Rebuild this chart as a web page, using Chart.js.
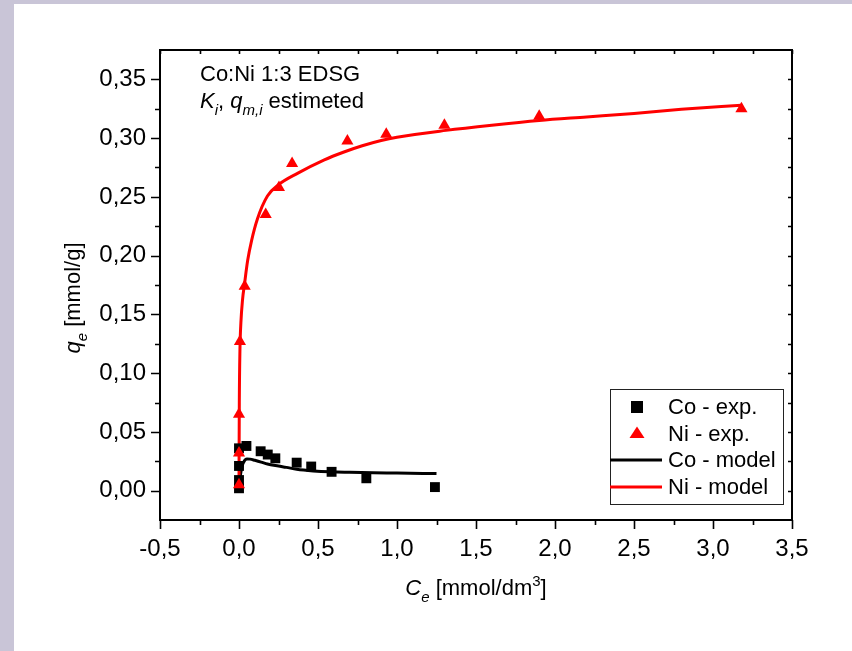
<!DOCTYPE html>
<html>
<head>
<meta charset="utf-8">
<script src="https://cdn.jsdelivr.net/npm/chart.js@4"></script>
<style>
  html, body { margin: 0; padding: 0; width: 852px; height: 651px; overflow: hidden; background: #c9c5d7; }
  #wrap { position: absolute; left: 14px; top: 4px; width: 838px; height: 647px; background: #ffffff; }
  canvas { display: block; }
</style>
</head>
<body>
<div id="wrap"><canvas id="c" width="838" height="647"></canvas></div>
<script>
// Co:Ni 1:3 EDSG sorption isotherms, Ce [mmol/dm3] vs qe [mmol/g]
const coExpX = [0.0, 0.0, 0.0, 0.0, 0.047, 0.137, 0.182, 0.230, 0.365, 0.457, 0.586, 0.806, 1.24];
const coExpY = [0.002, 0.009, 0.021, 0.036, 0.038, 0.0335, 0.0307, 0.0275, 0.0238, 0.0205, 0.016, 0.0105, 0.003];

const niExpX = [0.0, 0.0, 0.0, 0.006, 0.036, 0.169, 0.253, 0.336, 0.686, 0.932, 1.30, 1.90, 3.18];
const niExpY = [0.005, 0.032, 0.065, 0.127, 0.174, 0.235, 0.258, 0.2785, 0.2975, 0.3032, 0.311, 0.3186, 0.325];

const coModelX = [0, 0.004, 0.01, 0.02, 0.035, 0.05, 0.07, 0.1, 0.14, 0.18, 0.25, 0.3, 0.365, 0.47, 0.58, 0.7, 0.85, 1.0, 1.25];
const coModelY = [0.002, 0.007, 0.014, 0.021, 0.0255, 0.027, 0.0268, 0.0258, 0.0243, 0.0226, 0.0209, 0.0198, 0.0182, 0.0168, 0.016, 0.0156, 0.0152, 0.015, 0.0145];

const niModelX = [0, 0.0005, 0.002, 0.006, 0.012, 0.022, 0.035, 0.055, 0.08, 0.116, 0.18, 0.253, 0.37, 0.54, 0.66, 0.78, 0.9, 1.0, 1.31, 1.6, 1.9, 2.2, 2.5, 2.8, 3.18];
const niModelY = [0.003, 0.03, 0.075, 0.12, 0.143, 0.162, 0.176, 0.196, 0.213, 0.231, 0.2507, 0.2606, 0.27, 0.2815, 0.288, 0.2935, 0.298, 0.3008, 0.3066, 0.311, 0.315, 0.318, 0.321, 0.3245, 0.328];

const seriesNames = ['Co - exp.', 'Ni - exp.', 'Co - model', 'Ni - model'];

const xTicks = [-0.5, 0.0, 0.5, 1.0, 1.5, 2.0, 2.5, 3.0, 3.5];
const xTickLabels = ['-0,5', '0,0', '0,5', '1,0', '1,5', '2,0', '2,5', '3,0', '3,5'];
const yTicks = [0.00, 0.05, 0.10, 0.15, 0.20, 0.25, 0.30, 0.35];
const yTickLabels = ['0,00', '0,05', '0,10', '0,15', '0,20', '0,25', '0,30', '0,35'];

const FONT = '"Liberation Sans", Arial, Helvetica, sans-serif';
const RED = '#ff0000';
const BLACK = '#000000';

const pts = (xs, ys) => xs.map((x, i) => ({ x: x, y: ys[i] }));

// Draws a sequence of text runs (italic / subscript / superscript) on one baseline
function drawRuns(ctx, parts, x, y, size, align) {
  let total = 0;
  const items = parts.map(p => {
    const fs = p.s ? Math.round(size * 0.68) : size;
    const f = (p.i ? 'italic ' : '') + fs + 'px ' + FONT;
    ctx.font = f;
    const w = ctx.measureText(p.t).width;
    total += w;
    return { t: p.t, s: p.s, f: f, w: w };
  });
  let cx = align === 'center' ? x - total / 2 : x;
  ctx.textAlign = 'left';
  ctx.textBaseline = 'alphabetic';
  for (const it of items) {
    ctx.font = it.f;
    const dy = it.s === 'sub' ? size * 0.30 : it.s === 'sup' ? -size * 0.42 : 0;
    ctx.fillText(it.t, cx, y + dy);
    cx += it.w;
  }
}

// Midpoints between consecutive major ticks, plus one beyond each end if inside the range
function minorTicks(major, min, max) {
  const step = major[1] - major[0];
  const out = [];
  const first = major[0] - step / 2;
  if (first > min + 1e-9) out.push(first);
  for (let i = 0; i < major.length - 1; i++) out.push((major[i] + major[i + 1]) / 2);
  const last = major[major.length - 1] + step / 2;
  if (last < max - 1e-9) out.push(last);
  return out;
}

const decorations = {
  id: 'decorations',
  afterDatasetsDraw(chart) {
    const ctx = chart.ctx;
    const a = chart.chartArea;
    const xs = chart.scales.x, ys = chart.scales.y;
    ctx.save();
    ctx.strokeStyle = BLACK;

    // tick marks: outward on bottom/left, short inward mirrors on top/right
    ctx.lineWidth = 1.6;
    ctx.beginPath();
    xTicks.forEach(v => {
      const p = Math.round(xs.getPixelForValue(v)) + 0.5;
      ctx.moveTo(p, a.bottom); ctx.lineTo(p, a.bottom + 9);
      ctx.moveTo(p, a.top); ctx.lineTo(p, a.top + 4);
    });
    minorTicks(xTicks, xs.min, xs.max).forEach(v => {
      const p = Math.round(xs.getPixelForValue(v)) + 0.5;
      ctx.moveTo(p, a.bottom); ctx.lineTo(p, a.bottom + 5);
      ctx.moveTo(p, a.top); ctx.lineTo(p, a.top + 4);
    });
    yTicks.forEach(v => {
      const p = Math.round(ys.getPixelForValue(v)) + 0.5;
      ctx.moveTo(a.left, p); ctx.lineTo(a.left - 9, p);
      ctx.moveTo(a.right, p); ctx.lineTo(a.right - 4, p);
    });
    minorTicks(yTicks, ys.min, ys.max).forEach(v => {
      const p = Math.round(ys.getPixelForValue(v)) + 0.5;
      ctx.moveTo(a.left, p); ctx.lineTo(a.left - 5, p);
      ctx.moveTo(a.right, p); ctx.lineTo(a.right - 4, p);
    });
    ctx.stroke();

    // plot frame
    ctx.lineWidth = 2;
    ctx.strokeRect(a.left, a.top, a.right - a.left, a.bottom - a.top);
    ctx.restore();
  },
  afterDraw(chart) {
    const ctx = chart.ctx;
    const a = chart.chartArea;
    ctx.save();
    ctx.fillStyle = BLACK;

    // annotation in the upper-left corner
    drawRuns(ctx, [{ t: 'Co:Ni 1:3 EDSG' }], a.left + 40, a.top + 31, 22, 'left');
    drawRuns(ctx, [
      { t: 'K', i: true }, { t: 'i', i: true, s: 'sub' }, { t: ', ' },
      { t: 'q', i: true }, { t: 'm,i', i: true, s: 'sub' }, { t: ' estimeted' }
    ], a.left + 40, a.top + 58, 22, 'left');

    // axis titles
    drawRuns(ctx, [
      { t: 'C', i: true }, { t: 'e', i: true, s: 'sub' }, { t: ' [mmol/dm' },
      { t: '3', s: 'sup' }, { t: ']' }
    ], (a.left + a.right) / 2, a.bottom + 75, 22, 'center');

    ctx.save();
    ctx.translate(a.left - 80, (a.top + a.bottom) / 2 + 13);
    ctx.rotate(-Math.PI / 2);
    drawRuns(ctx, [{ t: 'q', i: true }, { t: 'e', i: true, s: 'sub' }, { t: ' [mmol/g]' }], 0, 0, 22, 'center');
    ctx.restore();

    // legend box
    const lx = a.right - 182, ly = a.bottom - 131, lw = 173, lh = 115;
    ctx.lineWidth = 1;
    ctx.strokeStyle = '#222';
    ctx.strokeRect(Math.round(lx) + 0.5, Math.round(ly) + 0.5, lw, lh);
    const rows = [ly + 18, ly + 44.5, ly + 71, ly + 98];
    const ds = chart.data.datasets;
    const mx = lx + 27;
    // square marker
    ctx.fillStyle = BLACK;
    ctx.fillRect(mx - 6, rows[0] - 6, 12, 12);
    // triangle marker
    ctx.fillStyle = RED;
    ctx.beginPath();
    ctx.moveTo(mx, rows[1] - 7);
    ctx.lineTo(mx + 7.5, rows[1] + 4.5);
    ctx.lineTo(mx - 7.5, rows[1] + 4.5);
    ctx.closePath();
    ctx.fill();
    // line samples
    ctx.lineWidth = 3;
    ctx.strokeStyle = BLACK;
    ctx.beginPath(); ctx.moveTo(lx, rows[2]); ctx.lineTo(lx + 52, rows[2]); ctx.stroke();
    ctx.strokeStyle = RED;
    ctx.beginPath(); ctx.moveTo(lx, rows[3]); ctx.lineTo(lx + 52, rows[3]); ctx.stroke();

    ctx.fillStyle = BLACK;
    ctx.font = '22px ' + FONT;
    ctx.textAlign = 'left';
    ctx.textBaseline = 'middle';
    ds.forEach((d, i) => ctx.fillText(d.label, lx + 58, rows[i] + 1));
    ctx.restore();
  }
};

new Chart(document.getElementById('c'), {
  type: 'scatter',
  data: {
    datasets: [
      {
        label: seriesNames[0], data: pts(coExpX, coExpY), order: 1,
        pointStyle: 'rect', pointRadius: 7, pointBorderWidth: 0,
        backgroundColor: BLACK, borderColor: BLACK, showLine: false
      },
      {
        label: seriesNames[1], data: pts(niExpX, niExpY), order: 0,
        pointStyle: 'triangle', pointRadius: 7, pointBorderWidth: 0,
        backgroundColor: RED, borderColor: RED, showLine: false
      },
      {
        label: seriesNames[2], data: pts(coModelX, coModelY), order: 3,
        showLine: true, pointRadius: 0, borderColor: BLACK, borderWidth: 3,
        cubicInterpolationMode: 'monotone', fill: false
      },
      {
        label: seriesNames[3], data: pts(niModelX, niModelY), order: 2,
        showLine: true, pointRadius: 0, borderColor: RED, borderWidth: 3,
        cubicInterpolationMode: 'monotone', fill: false
      }
    ]
  },
  options: {
    responsive: false,
    animation: false,
    devicePixelRatio: 1,
    layout: { padding: { top: 46, right: 60, left: 0, bottom: 0 } },
    plugins: { legend: { display: false }, tooltip: { enabled: false } },
    scales: {
      x: {
        type: 'linear', position: 'bottom', min: -0.5, max: 3.5,
        afterBuildTicks: s => { s.ticks = xTicks.map(v => ({ value: v })); },
        afterFit: s => { s.height = 131; },
        grid: { drawOnChartArea: false, drawTicks: true, tickLength: 9, tickColor: 'rgba(0,0,0,0)' },
        border: { display: false },
        ticks: {
          padding: 6, color: BLACK, maxRotation: 0, autoSkip: false,
          font: { family: FONT, size: 24 },
          callback: (v, i) => xTickLabels[i]
        }
      },
      y: {
        type: 'linear', position: 'left', min: -0.025, max: 0.375,
        afterBuildTicks: s => { s.ticks = yTicks.map(v => ({ value: v })); },
        afterFit: s => { s.width = 146; },
        grid: { drawOnChartArea: false, drawTicks: true, tickLength: 9, tickColor: 'rgba(0,0,0,0)' },
        border: { display: false },
        ticks: {
          padding: 5, color: BLACK, autoSkip: false,
          font: { family: FONT, size: 24 },
          callback: (v, i) => yTickLabels[i]
        }
      }
    }
  },
  plugins: [decorations]
});
</script>
</body>
</html>
